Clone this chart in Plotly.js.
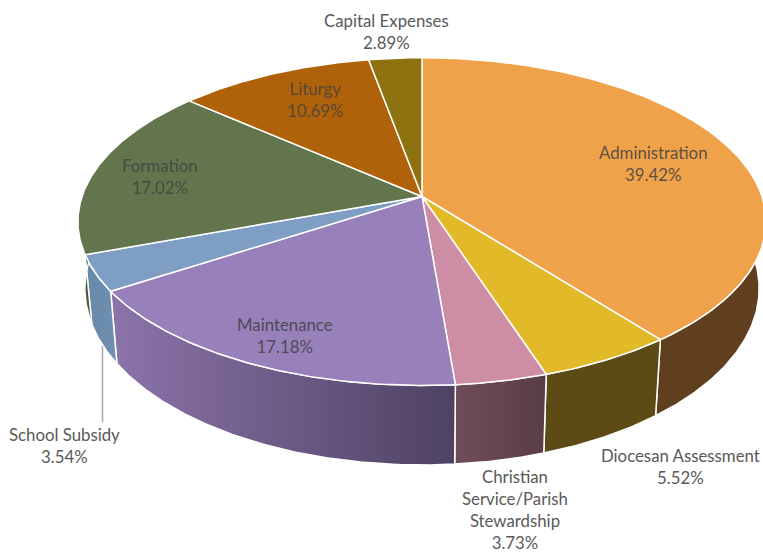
<!DOCTYPE html>
<html>
<head>
<meta charset="utf-8">
<script src="https://cdn.plot.ly/plotly-3.0.1.min.js"></script>
<style>html,body{margin:0;padding:0;background:#fff;overflow:hidden}</style>
</head>
<body>
<div id="chart" style="width:763px;height:552px"></div>
<script>
const categories = ["Administration", "Diocesan Assessment", "Christian Service/Parish Stewardship", "Maintenance", "School Subsidy", "Formation", "Liturgy", "Capital Expenses"];
const values = [39.42, 5.52, 3.73, 17.18, 3.54, 17.02, 10.69, 2.89];
const labelTexts = ["Administration", "Diocesan Assessment", "Christian<br>Service/Parish<br>Stewardship", "Maintenance", "School Subsidy", "Formation", "Liturgy", "Capital Expenses"];

// Styles
const topColors = ["#F0A24B", "#E2B928", "#CD8EA5", "#9880BB", "#7F9EC4", "#62754C", "#B0620A", "#8E720F"];
const sideLeftColors = ["#5F3F1E", "#5C4B14", "#704C59", "#8C74AA", "#6888A8", "#4E5C3A", "#6A3B06", "#554409"];
const sideRightColors = ["#5F3F1E", "#5C4B14", "#583D47", "#4E4263", "#7090B2", "#4E5C3A", "#6A3B06", "#554409"];
const labelX = [653, 680, 515, 285, 64, 160, 315, 386];
const labelY = [163, 466, 509, 335, 445, 176, 99, 31.5];
const labelColors = ["rgba(64,64,64,.85)", "#595959", "#595959", "rgba(64,64,64,.85)", "#595959", "rgba(64,64,64,.8)", "rgba(64,64,64,.8)", "#595959"];

// Perspective projection of the pie (pixel axes)
const cx = 422, cy = 196.5, bx = 340, by = 160, persp = 0.153;
const baseScaleX = 0.98, baseScaleY = 1.077, baseDrop = 65;

function project(theta) {
  const u = Math.sin(theta), v = Math.cos(theta), w = 1 + persp * v;
  return [bx * u / w, -by * v / w];
}
function topPt(t) { const p = project(t); return [cx + p[0], cy + p[1]]; }
function basePt(t) { const p = project(t); return [cx + baseScaleX * p[0], cy + baseScaleY * p[1] + baseDrop]; }

const total = values.reduce((a, b) => a + b, 0);
let cum = 0;
const spans = values.map(val => {
  const a = cum / total * 2 * Math.PI; cum += val;
  return [a, cum / total * 2 * Math.PI];
});
function arc(a, b, fn) {
  const n = Math.max(4, Math.ceil((b - a) / 0.01)), out = [];
  for (let i = 0; i <= n; i++) out.push(fn(a + (b - a) * i / n));
  return out;
}

const sideTraces = [], topTraces = [];
spans.forEach((s, i) => {
  const upper = arc(s[0], s[1], topPt), lower = arc(s[0], s[1], basePt).reverse();
  const ring = upper.concat(lower); ring.push(upper[0]);
  sideTraces.push({
    type: "scatter", mode: "lines", x: ring.map(p => p[0]), y: ring.map(p => p[1]),
    fill: "toself",
    fillgradient: { type: "horizontal", colorscale: [[0, sideLeftColors[i]], [1, sideRightColors[i]]] },
    line: { color: "#FFFFFF", width: 1.5 }, hoverinfo: "skip", name: categories[i] + " side", showlegend: false
  });
  const wedge = [[cx, cy]].concat(upper); wedge.push([cx, cy]);
  topTraces.push({
    type: "scatter", mode: "lines", x: wedge.map(p => p[0]), y: wedge.map(p => p[1]),
    fill: "toself", fillcolor: topColors[i],
    line: { color: "#FFFFFF", width: 1.5 }, name: categories[i],
    text: categories[i] + ": " + values[i].toFixed(2) + "%", hoverinfo: "text", showlegend: false
  });
});

const annotations = categories.map((c, i) => ({
  x: labelX[i], y: labelY[i], xref: "x", yref: "y", xanchor: "center", yanchor: "middle",
  showarrow: false, align: "center",
  text: labelTexts[i] + "<br>" + values[i].toFixed(2) + "%",
  font: { family: "Lato, Carlito, sans-serif", size: 16.8, color: labelColors[i] }
}));

const layout = {
  width: 763, height: 552, margin: { l: 0, r: 0, t: 0, b: 0 },
  paper_bgcolor: "#FFFFFF", plot_bgcolor: "#FFFFFF", showlegend: false,
  xaxis: { range: [0, 763], visible: false, fixedrange: true },
  yaxis: { range: [552, 0], visible: false, fixedrange: true },
  annotations: annotations,
  shapes: [{ type: "line", xref: "x", yref: "y", x0: 102.5, x1: 102.5, y0: 340, y1: 422, layer: "below", line: { color: "#A6A6A6", width: 1.5 } }]
};
Plotly.newPlot("chart", sideTraces.concat(topTraces), layout, { displayModeBar: false, staticPlot: false });
</script>
</body>
</html>
